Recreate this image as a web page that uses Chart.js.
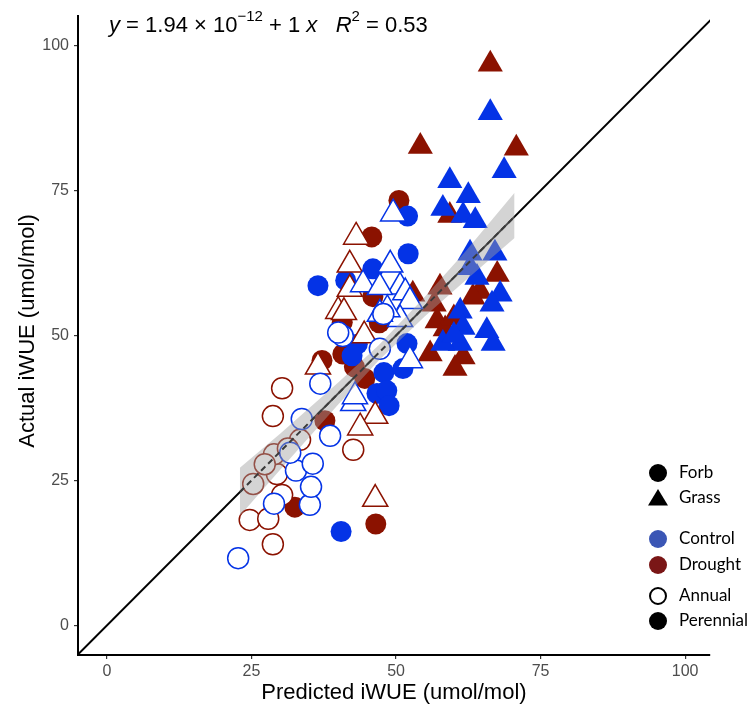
<!DOCTYPE html>
<html>
<head>
<meta charset="utf-8">
<script src="https://cdn.jsdelivr.net/npm/chart.js@4.4.1/dist/chart.umd.min.js"></script>
<style>
  html, body { margin: 0; padding: 0; background: #fff; }
  #wrap { width: 756px; height: 708px; }
</style>
</head>
<body>
<div id="wrap"><canvas id="myChart" width="756" height="708"></canvas></div>
<script>
// axis ticks
const xTicks = [0, 25, 50, 75, 100];
const yTicks = [0, 25, 50, 75, 100];

// [predicted, actual] pairs per group
const ctrlPerForb = [[52.0,70.6],[52.1,64.1],[46.0,61.5],[41.3,59.5],[36.5,58.6],[43.3,48.5],[42.4,46.5],[51.9,48.6],[47.9,43.6],[46.7,40.0],[48.4,40.5],[48.8,37.9],[51.2,44.3],[40.5,16.2]];
const drouPerForb = [[50.5,73.3],[45.8,67.0],[46.0,56.7],[47.1,52.2],[40.7,52.3],[40.8,46.8],[37.2,45.7],[44.6,42.6],[42.8,44.6],[37.7,35.3],[32.5,20.4],[46.5,17.5]];
const ctrlPerGrass = [[66.3,88.4],[68.7,78.4],[59.3,76.7],[62.5,74.1],[58.1,71.9],[61.6,70.7],[63.7,69.8],[62.8,64.2],[67.1,64.2],[62.8,61.7],[64.0,60.0],[68.0,57.1],[66.6,55.4],[61.1,54.2],[61.6,51.4],[65.7,50.8],[66.8,48.6],[61.1,48.6],[58.1,48.6],[60.0,50.0]];
const drouPerGrass = [[66.3,96.8],[54.2,82.6],[70.8,82.3],[59.3,70.7],[67.5,60.5],[64.5,57.6],[63.3,56.6],[57.6,58.3],[52.9,57.1],[56.6,55.4],[57.1,52.5],[58.5,51.1],[60.0,53.0],[55.9,46.8],[61.6,46.3],[60.2,44.3]];
const ctrlAnnGrass = [[49.5,71.0],[49.0,62.2],[44.3,58.8],[50.7,58.4],[47.2,58.3],[51.6,57.4],[52.4,55.9],[50.7,52.8],[47.2,53.7],[48.5,54.5],[52.4,45.7],[42.6,38.3],[42.9,39.5]];
const drouAnnGrass = [[43.1,67.0],[42.0,62.2],[42.0,58.0],[40.0,54.2],[41.0,54.0],[44.5,50.0],[36.5,44.6],[46.4,36.1],[43.8,34.1],[46.4,21.8]];
const ctrlAnnForb = [[22.7,11.6],[28.9,21.0],[35.1,20.8],[35.3,23.9],[32.7,26.7],[35.6,27.9],[38.6,32.7],[33.7,35.6],[36.9,41.7],[31.7,29.8],[40.8,49.9],[40.0,50.5],[47.2,47.7],[47.8,53.7]];
const drouAnnForb = [[30.3,40.9],[28.7,36.1],[25.3,24.4],[29.4,26.1],[33.4,32.0],[28.9,29.5],[27.3,27.8],[24.7,18.2],[27.9,18.4],[28.7,14.0],[42.6,30.3],[30.3,22.5],[31.3,30.5]];

// fitted line and its confidence band
const bandX = [23, 30, 40, 47, 55, 62, 70.5];
const bandLow = [18.9, 26.9, 38.1, 45.7, 53.3, 59.5, 66.8];
const bandHigh = [27.2, 33.1, 41.9, 48.3, 56.7, 64.5, 74.6];
const fitX = [23, 70.5];
const fitY = [23, 70.5];
const oneToOne = [-10, 110];

const BLUE = '#0433e6';
const RED = '#8b1200';
const FONT = '"Liberation Sans", Arial, sans-serif';

const toPts = arr => arr.map(p => ({ x: p[0], y: p[1] }));

function pointSet(label, data, shape, color, open, order) {
    const r = shape === 'triangle' ? 14.5 : 10.5;
    return {
        type: 'scatter',
        label: label,
        data: toPts(data),
        pointStyle: shape,
        pointRadius: r,
        pointHoverRadius: r,
        backgroundColor: open ? '#ffffff' : color,
        borderColor: color,
        borderWidth: open ? 1.5 : 0,
        order: order
    };
}

const eqPlugin = {
    id: 'eqAndLegend',
    afterDraw(chart) {
        const c = chart.ctx;
        c.save();
        // equation
        const runs = [
            { t: 'y', it: true }, { t: ' = 1.94 \u00d7 10' }, { t: '\u221212', sup: true },
            { t: ' + 1 ' }, { t: 'x', it: true }, { t: '   ' },
            { t: 'R', it: true }, { t: '2', sup: true }, { t: ' = 0.53' }
        ];
        let x = 109;
        const base = 32;
        c.fillStyle = '#000';
        c.textBaseline = 'alphabetic';
        c.textAlign = 'left';
        runs.forEach(r => {
            const size = r.sup ? 15 : 22;
            c.font = (r.it ? 'italic ' : '') + size + 'px ' + FONT;
            c.fillText(r.t, x, r.sup ? base - 11 : base);
            x += c.measureText(r.t).width;
        });

        // axis titles
        c.font = '22px ' + FONT;
        c.textAlign = 'center';
        c.fillText('Predicted iWUE (umol/mol)', 394, 699);
        c.save();
        c.translate(34, 331);
        c.rotate(-Math.PI / 2);
        c.fillText('Actual iWUE (umol/mol)', 0, 0);
        c.restore();

        // legend
        const items = [
            { label: 'Forb', y: 473, shape: 'circle', color: '#000', open: false },
            { label: 'Grass', y: 498, shape: 'triangle', color: '#000', open: false },
            { label: 'Control', y: 539, shape: 'circle', color: '#3b56b5', open: false },
            { label: 'Drought', y: 565, shape: 'circle', color: '#7a1616', open: false },
            { label: 'Annual', y: 596, shape: 'circle', color: '#000', open: true },
            { label: 'Perennial', y: 621, shape: 'circle', color: '#000', open: false }
        ];
        c.font = '17px Lato, "Noto Sans", sans-serif';
        c.textAlign = 'left';
        c.textBaseline = 'middle';
        items.forEach(it => {
            c.beginPath();
            if (it.shape === 'circle') {
                c.arc(658, it.y, it.open ? 8 : 9, 0, Math.PI * 2);
            } else {
                c.moveTo(658, it.y - 9);
                c.lineTo(668, it.y + 7.5);
                c.lineTo(648, it.y + 7.5);
                c.closePath();
            }
            if (it.open) {
                c.lineWidth = 2;
                c.strokeStyle = it.color;
                c.stroke();
            } else {
                c.fillStyle = it.color;
                c.fill();
            }
            c.fillStyle = '#000';
            c.fillText(it.label, 679, it.y);
        });
        c.restore();
    }
};

const ctx = document.getElementById('myChart').getContext('2d');
const myChart = new Chart(ctx, {
    type: 'scatter',
    data: {
        datasets: [
            {
                type: 'line', label: 'fit', data: fitX.map((v, i) => ({ x: v, y: fitY[i] })),
                borderColor: '#3a3a3a', borderWidth: 2, borderDash: [6, 4], pointRadius: 0, fill: false, order: 1
            },
            {
                type: 'line', label: 'low', data: bandX.map((v, i) => ({ x: v, y: bandLow[i] })),
                borderWidth: 0, borderColor: 'rgba(0,0,0,0)', pointRadius: 0, fill: false, order: 2
            },
            {
                type: 'line', label: 'high', data: bandX.map((v, i) => ({ x: v, y: bandHigh[i] })),
                borderWidth: 0, borderColor: 'rgba(0,0,0,0)', pointRadius: 0,
                fill: '-1', backgroundColor: 'rgba(160,160,160,0.45)', order: 2
            },
            pointSet('Control Annual Forb', ctrlAnnForb, 'circle', BLUE, true, 10),
            pointSet('Drought Annual Forb', drouAnnForb, 'circle', RED, true, 11),
            pointSet('Control Annual Grass', ctrlAnnGrass, 'triangle', BLUE, true, 12),
            pointSet('Drought Annual Grass', drouAnnGrass, 'triangle', RED, true, 13),
            pointSet('Control Perennial Forb', ctrlPerForb, 'circle', BLUE, false, 14),
            pointSet('Drought Perennial Forb', drouPerForb, 'circle', RED, false, 15),
            pointSet('Control Perennial Grass', ctrlPerGrass, 'triangle', BLUE, false, 16),
            pointSet('Drought Perennial Grass', drouPerGrass, 'triangle', RED, false, 17),
            {
                type: 'line', label: '1:1', data: oneToOne.map(v => ({ x: v, y: v })),
                borderColor: '#000', borderWidth: 2, pointRadius: 0, fill: false, order: 100
            }
        ]
    },
    options: {
        responsive: false,
        animation: false,
        layout: { padding: { left: 0, right: 46, top: 8, bottom: 0 } },
        plugins: { legend: { display: false }, tooltip: { enabled: false } },
        scales: {
            x: {
                type: 'linear', min: -5, max: 104.3,
                afterBuildTicks: s => { s.ticks = xTicks.map(v => ({ value: v })); },
                afterFit: s => { s.height = 53; },
                grid: { drawOnChartArea: false, drawTicks: true, tickLength: 4, color: '#333', lineWidth: 1.2 },
                border: { display: true, color: '#000', width: 2 },
                ticks: { color: '#4d4d4d', font: { family: FONT, size: 16 }, padding: 3, maxRotation: 0 }
            },
            y: {
                type: 'linear', min: -5.1, max: 105.1,
                afterBuildTicks: s => { s.ticks = yTicks.map(v => ({ value: v })); },
                afterFit: s => { s.width = 78; },
                grid: { drawOnChartArea: false, drawTicks: true, tickLength: 4, color: '#333', lineWidth: 1.2 },
                border: { display: true, color: '#000', width: 2 },
                ticks: { color: '#4d4d4d', font: { family: FONT, size: 16 }, padding: 5 }
            }
        }
    },
    plugins: [eqPlugin]
});
</script>
</body>
</html>
